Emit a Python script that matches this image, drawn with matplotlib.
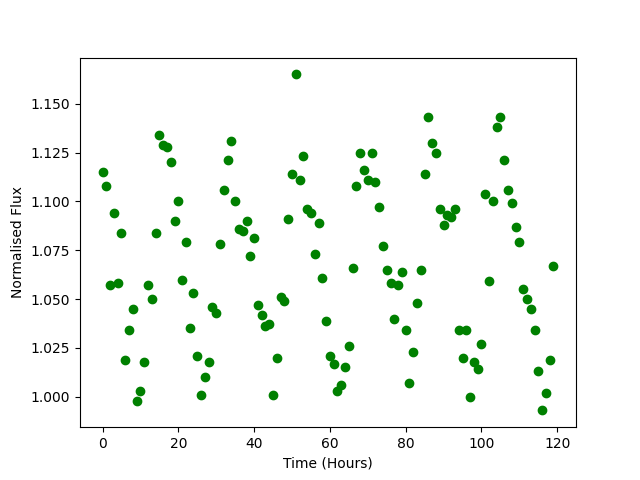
import matplotlib
matplotlib.use("Agg")
import matplotlib.pyplot as plt
import numpy as np

hours = np.arange(120)
flux = [
    1.115, 1.108, 1.057, 1.094, 1.058, 1.084, 1.019, 1.034, 1.045, 0.998,
    1.003, 1.018, 1.057, 1.050, 1.084, 1.134, 1.129, 1.128, 1.120, 1.090,
    1.100, 1.060, 1.079, 1.035, 1.053, 1.021, 1.001, 1.010, 1.018, 1.046,
    1.043, 1.078, 1.106, 1.121, 1.131, 1.100, 1.086, 1.085, 1.090, 1.072,
    1.081, 1.047, 1.042, 1.036, 1.037, 1.001, 1.020, 1.051, 1.049, 1.091,
    1.114, 1.165, 1.111, 1.123, 1.096, 1.094, 1.073, 1.089, 1.061, 1.039,
    1.021, 1.017, 1.003, 1.006, 1.015, 1.026, 1.066, 1.108, 1.125, 1.116,
    1.111, 1.125, 1.110, 1.097, 1.077, 1.065, 1.058, 1.040, 1.057, 1.064,
    1.034, 1.007, 1.023, 1.048, 1.065, 1.114, 1.143, 1.130, 1.125, 1.096,
    1.088, 1.093, 1.092, 1.096, 1.034, 1.020, 1.034, 1.000, 1.018, 1.014,
    1.027, 1.104, 1.059, 1.100, 1.138, 1.143, 1.121, 1.106, 1.099, 1.087,
    1.079, 1.055, 1.050, 1.045, 1.034, 1.013, 0.993, 1.002, 1.019, 1.067,
]

fig = plt.figure(figsize=(6.4, 4.8), dpi=100)
plt.plot(hours, flux, 'o', color='green')
plt.xlabel("Time (Hours)")
plt.ylabel("Normalised Flux")
plt.savefig("out.png")
